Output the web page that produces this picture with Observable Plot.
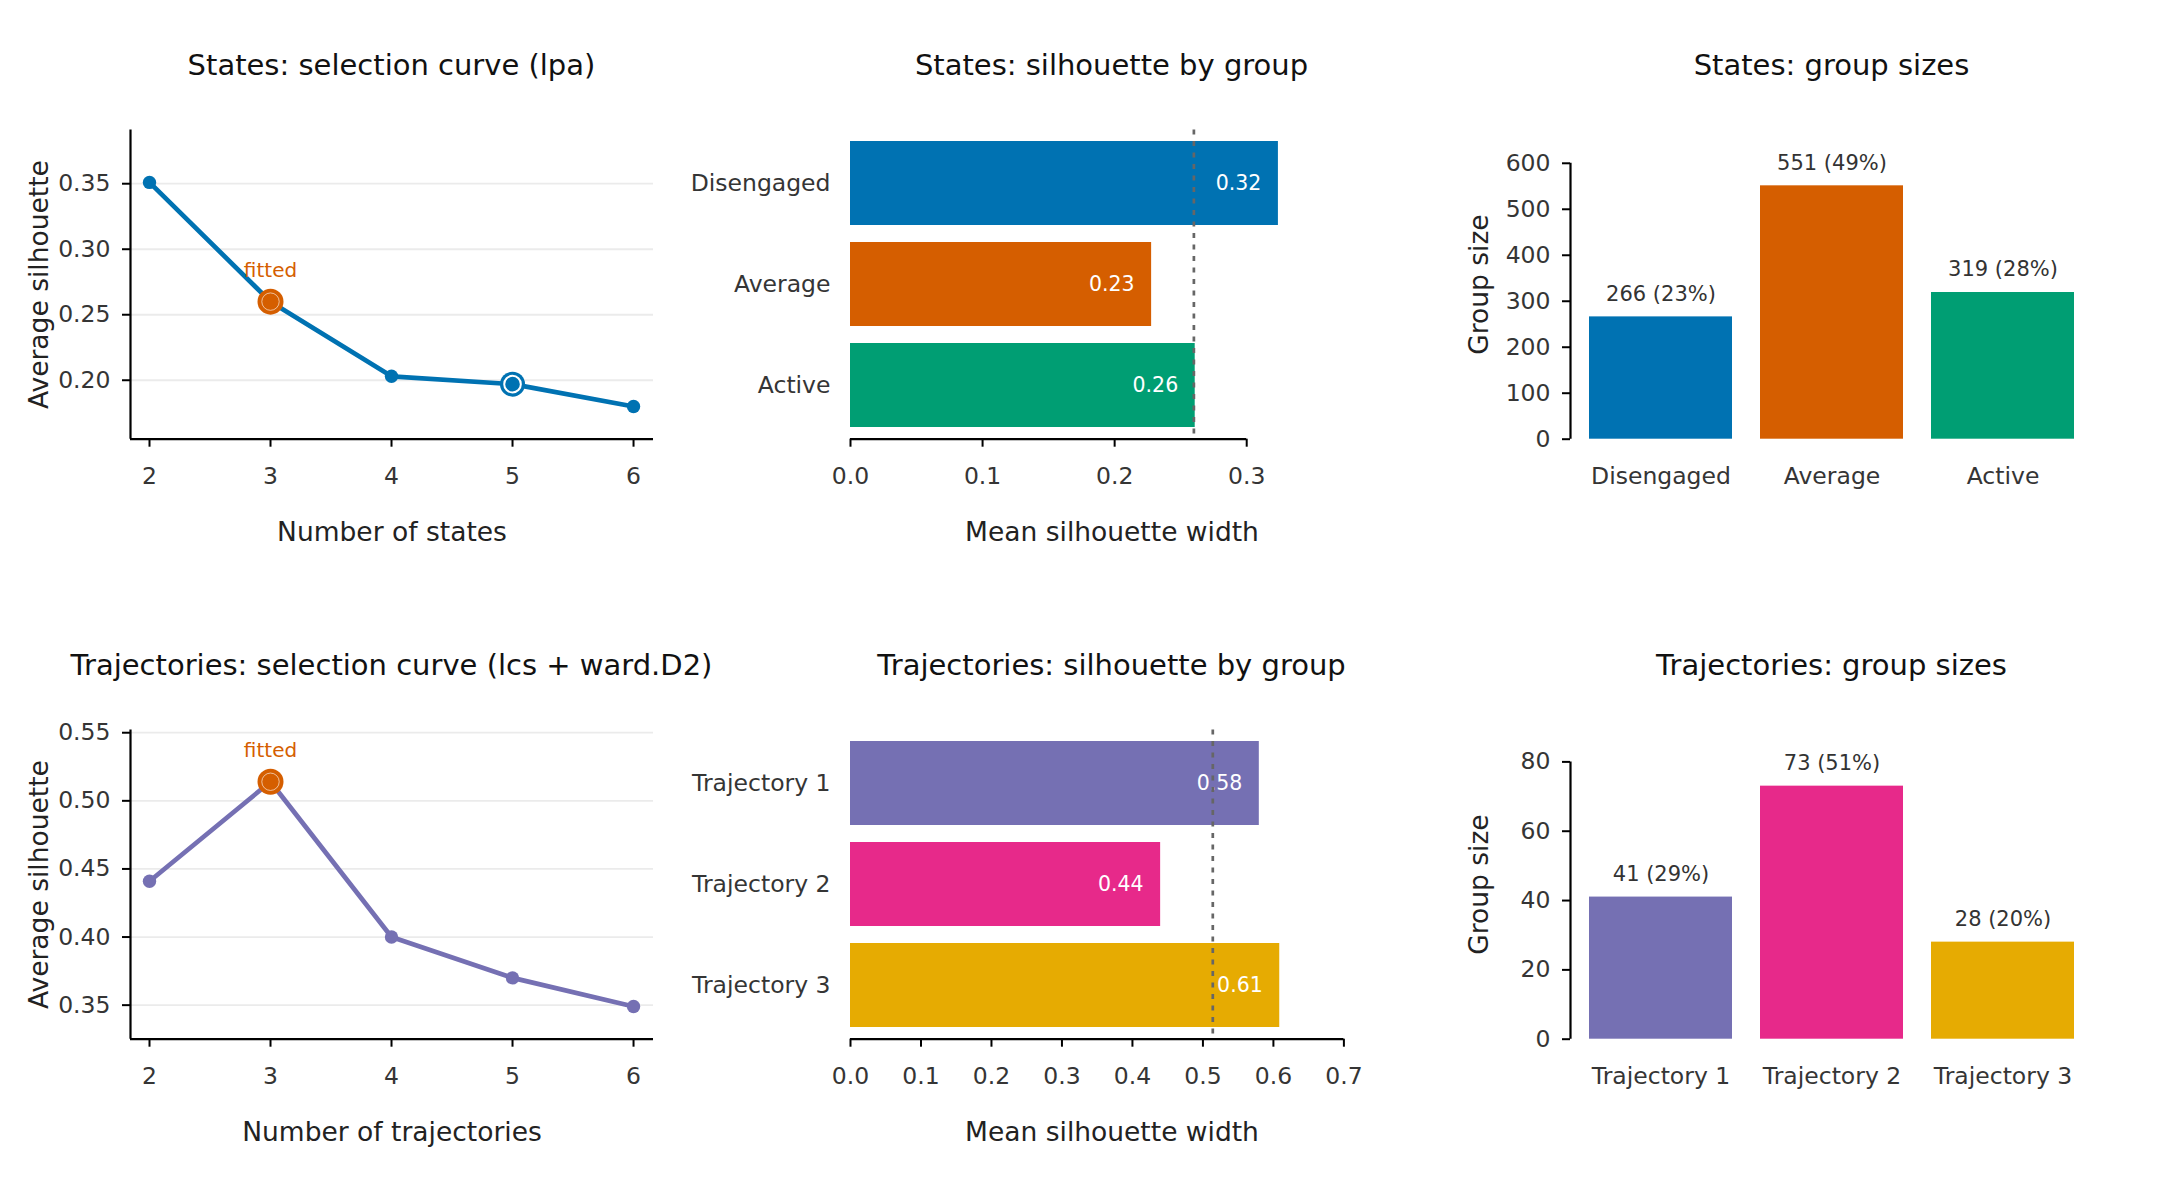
<!DOCTYPE html>
<html><head><meta charset="utf-8">
<script src="https://cdn.jsdelivr.net/npm/d3@7"></script>
<script src="https://cdn.jsdelivr.net/npm/@observablehq/plot@0.6"></script>
<style>
html,body{margin:0;padding:0;background:#fff;overflow:hidden;}
#grid{display:grid;grid-template-columns:720px 720px 720px;grid-template-rows:600px 600px;width:2160px;height:1200px;}
.panel{width:720px;height:600px;overflow:visible;}
.title{box-sizing:border-box;height:100px;padding:50px 67px 0 130px;font-family:"DejaVu Sans";font-size:29px;line-height:30px;color:#111;white-space:nowrap;display:flex;justify-content:center;}
.panel svg{display:block;overflow:visible;}
</style></head><body><div id="grid"></div>
<script>
// ---- data ----
const kValues = [2, 3, 4, 5, 6];
const statesSil = [0.351, 0.260, 0.203, 0.197, 0.180];
const statesFittedK = 3;
const statesMarkedK = 5;
const trajSil = [0.441, 0.514, 0.400, 0.370, 0.349];
const trajFittedK = 3;

const stateGroups = ["Disengaged", "Average", "Active"];
const stateColors = ["#0072B2", "#D55E00", "#009E73"];
const stateGroupSil = [0.324, 0.228, 0.261];
const stateSizes = [266, 551, 319];

const trajGroups = ["Trajectory 1", "Trajectory 2", "Trajectory 3"];
const trajColors = ["#7570B3", "#E7298A", "#E6AB02"];
const trajGroupSil = [0.580, 0.440, 0.609];
const trajSizes = [41, 73, 28];

const statesCurveTicks = [0.20, 0.25, 0.30, 0.35];
const trajCurveTicks = [0.35, 0.40, 0.45, 0.50, 0.55];
const statesSilTicks = [0.0, 0.1, 0.2, 0.3];
const trajSilTicks = [0.0, 0.1, 0.2, 0.3, 0.4, 0.5, 0.6, 0.7];
const statesSizeTicks = [0, 100, 200, 300, 400, 500, 600];
const trajSizeTicks = [0, 20, 40, 60, 80];

const fittedColor = "#D55E00";
const tickColor = "#353535";
const labelColor = "#222";
const tickFont = 23.5;
const labelFont = 26.5;

// ---- layout helpers ----
const base = {
  width: 720, height: 500,
  marginTop: 29.5, marginBottom: 161.3, marginLeft: 130, marginRight: 67,
  style: {fontFamily: "DejaVu Sans", background: "white", overflow: "visible"}
};

function panel(title, svg) {
  const div = document.createElement("div");
  div.className = "panel";
  const t = document.createElement("div");
  t.className = "title";
  t.textContent = title;
  div.appendChild(t);
  div.appendChild(svg);
  document.getElementById("grid").appendChild(div);
}

function xLabel(text) {
  return Plot.text([text], {frameAnchor: "bottom", lineAnchor: "middle", textAnchor: "middle", dy: 93, fontSize: labelFont, fill: labelColor});
}
function yLabel(text) {
  return Plot.text([text], {frameAnchor: "left", rotate: -90, textAnchor: "middle", lineAnchor: "middle", dx: -91, fontSize: labelFont, fill: labelColor});
}

function curve({sil, color, fittedK, markedK, yDomain, yTicks, xlabel}) {
  const xDomain = [1.843, 6.165];
  const pts = kValues.map((k, i) => ({k, s: sil[i]}));
  const fitted = pts.filter(d => d.k === fittedK);
  const marked = pts.filter(d => d.k === markedK);
  return Plot.plot({
    ...base,
    x: {domain: xDomain},
    y: {domain: yDomain},
    marks: [
      Plot.gridY(yTicks, {stroke: "#ebebeb", strokeOpacity: 1, strokeWidth: 1.8}),
      Plot.ruleX([xDomain[0]], {stroke: "black", strokeWidth: 2.2}),
      Plot.ruleY([yDomain[0]], {stroke: "black", strokeWidth: 2.2}),
      Plot.axisX(kValues, {tickSize: 8, tickPadding: 20, fontSize: tickFont, fill: tickColor, stroke: "black", strokeWidth: 2, tickFormat: "d", label: null}),
      Plot.axisY(yTicks, {tickSize: 8, tickPadding: 12, fontSize: tickFont, fill: tickColor, stroke: "black", strokeWidth: 2, tickFormat: ".2f", label: null}),
      Plot.line(pts, {x: "k", y: "s", stroke: color, strokeWidth: 4.7}),
      Plot.dot(pts, {x: "k", y: "s", r: 6.7, fill: color}),
      Plot.dot(marked, {x: "k", y: "s", r: 12.5, fill: color}),
      Plot.dot(marked, {x: "k", y: "s", r: 8.3, fill: "none", stroke: "white", strokeWidth: 2}),
      Plot.dot(fitted, {x: "k", y: "s", r: 13, fill: fittedColor}),
      Plot.dot(fitted, {x: "k", y: "s", r: 8.7, fill: "none", stroke: "white", strokeWidth: 1, strokeOpacity: 0.6}),
      Plot.text(fitted, {x: "k", y: "s", text: () => "fitted", dy: -31, fill: fittedColor, fontSize: 20}),
      yLabel("Average silhouette"),
      xLabel(xlabel)
    ]
  });
}

function silBars({groups, colors, values, mean, xMax, xTicks}) {
  const rows = groups.map((g, i) => ({g, v: values[i]}));
  return Plot.plot({
    ...base,
    x: {domain: [0, xMax]},
    y: {domain: groups, paddingInner: 0.167, paddingOuter: 0.111},
    color: {domain: groups, range: colors},
    marks: [
      Plot.barX(rows, {x: "v", y: "g", fill: "g"}),
      Plot.text(rows, {x: "v", y: "g", text: d => d.v.toFixed(2), textAnchor: "end", dx: -17, fill: "white", fontSize: 20.5}),
      Plot.ruleX([mean], {stroke: "#666", strokeWidth: 2.7, strokeDasharray: "5,6.5"}),
      Plot.ruleY([0], {y: null, x1: xTicks[0], x2: xTicks[xTicks.length - 1], dy: 154.6, stroke: "black", strokeWidth: 2.2}),
      Plot.axisX(xTicks, {tickSize: 8, tickPadding: 20, fontSize: tickFont, fill: tickColor, stroke: "black", strokeWidth: 2, tickFormat: ".1f", label: null}),
      Plot.axisY({tickSize: 0, tickPadding: 20, fontSize: tickFont, fill: tickColor, label: null}),
      xLabel("Mean silhouette width")
    ]
  });
}

function sizeBars({groups, colors, sizes, yMax, yTicks}) {
  const total = d3.sum(sizes);
  const rows = groups.map((g, i) => ({g, n: sizes[i]}));
  return Plot.plot({
    ...base,
    x: {domain: groups, paddingInner: 0.165, paddingOuter: 0.11},
    y: {domain: [0, yMax]},
    color: {domain: groups, range: colors},
    marks: [
      Plot.barY(rows, {x: "g", y: "n", fill: "g"}),
      Plot.text(rows, {x: "g", y: "n", text: d => `${d.n} (${Math.round(100 * d.n / total)}%)`, dy: -23, fill: "#333", fontSize: 21}),
      Plot.ruleX([0], {x: null, y1: yTicks[0], y2: yTicks[yTicks.length - 1], dx: -261.5, stroke: "black", strokeWidth: 2.2}),
      Plot.axisY(yTicks, {tickSize: 8, tickPadding: 12, fontSize: tickFont, fill: tickColor, stroke: "black", strokeWidth: 2, label: null}),
      Plot.axisX({tickSize: 0, tickPadding: 28, fontSize: tickFont, fill: tickColor, label: null}),
      yLabel("Group size")
    ]
  });
}

panel("States: selection curve (lpa)", curve({sil: statesSil, color: "#0072B2", fittedK: statesFittedK, markedK: statesMarkedK, yDomain: [0.155, 0.391], yTicks: statesCurveTicks, xlabel: "Number of states"}));
panel("States: silhouette by group", silBars({groups: stateGroups, colors: stateColors, values: stateGroupSil, mean: statesSil[kValues.indexOf(statesFittedK)], xMax: 0.396, xTicks: statesSilTicks}));
panel("States: group sizes", sizeBars({groups: stateGroups, colors: stateColors, sizes: stateSizes, yMax: 672.4, yTicks: statesSizeTicks}));
panel("Trajectories: selection curve (lcs + ward.D2)", curve({sil: trajSil, color: "#7570B3", fittedK: trajFittedK, markedK: null, yDomain: [0.325, 0.552], yTicks: trajCurveTicks, xlabel: "Number of trajectories"}));
panel("Trajectories: silhouette by group", silBars({groups: trajGroups, colors: trajColors, values: trajGroupSil, mean: trajSil[kValues.indexOf(trajFittedK)], xMax: 0.742, xTicks: trajSilTicks}));
panel("Trajectories: group sizes", sizeBars({groups: trajGroups, colors: trajColors, sizes: trajSizes, yMax: 89.2, yTicks: trajSizeTicks}));
</script></body></html>
